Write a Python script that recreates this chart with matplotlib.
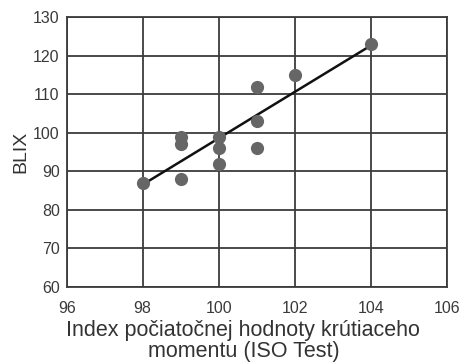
import numpy as np
import matplotlib.pyplot as plt

plt.rcParams['font.family'] = ['Liberation Sans', 'DejaVu Sans']

# data
iso_index = [98, 99, 99, 99, 100, 100, 100, 101, 101, 101, 102, 104]
blix = [87, 99, 97, 88, 99, 96, 92, 112, 103, 96, 115, 123]
x_ticks = [96, 98, 100, 102, 104, 106]
y_ticks = [60, 70, 80, 90, 100, 110, 120, 130]

fig = plt.figure(figsize=(4.62, 3.62), dpi=100)
ax = fig.add_axes([0.1443, 0.208, 0.8227, 0.744])

# regression line through the points
k, q = np.polyfit(iso_index, blix, 1)
xl = np.array([min(iso_index), max(iso_index)])
ax.plot(xl, k * xl + q, color='#111111', lw=1.8, zorder=3)

ax.plot(iso_index, blix, 'o', color='#666666', ms=9.5, mew=0, zorder=4)

ax.set_xlim(96, 106)
ax.set_ylim(60, 130)
ax.set_xticks(x_ticks)
ax.set_yticks(y_ticks)
ax.grid(True, color='#3c3c3c', lw=1.3)
ax.set_axisbelow(True)
for s in ax.spines.values():
    s.set_color('#3c3c3c')
    s.set_linewidth(1.3)
ax.tick_params(length=0, labelsize=11.5, colors='#3a3a3a')
ax.tick_params(axis='y', pad=5)
ax.tick_params(axis='x', pad=10)

ax.set_xlabel("Index počiatočnej hodnoty krútiaceho\nmomentu (ISO Test)",
              fontsize=15.5, color='#333333', linespacing=1.0)
ax.xaxis.set_label_coords(0.465, -0.124, transform=ax.transAxes)
ax.xaxis.label.set_va('top')
ax.set_ylabel("BLIX", fontsize=14, color='#333333', labelpad=3)

fig.savefig('out.png', dpi=100)
